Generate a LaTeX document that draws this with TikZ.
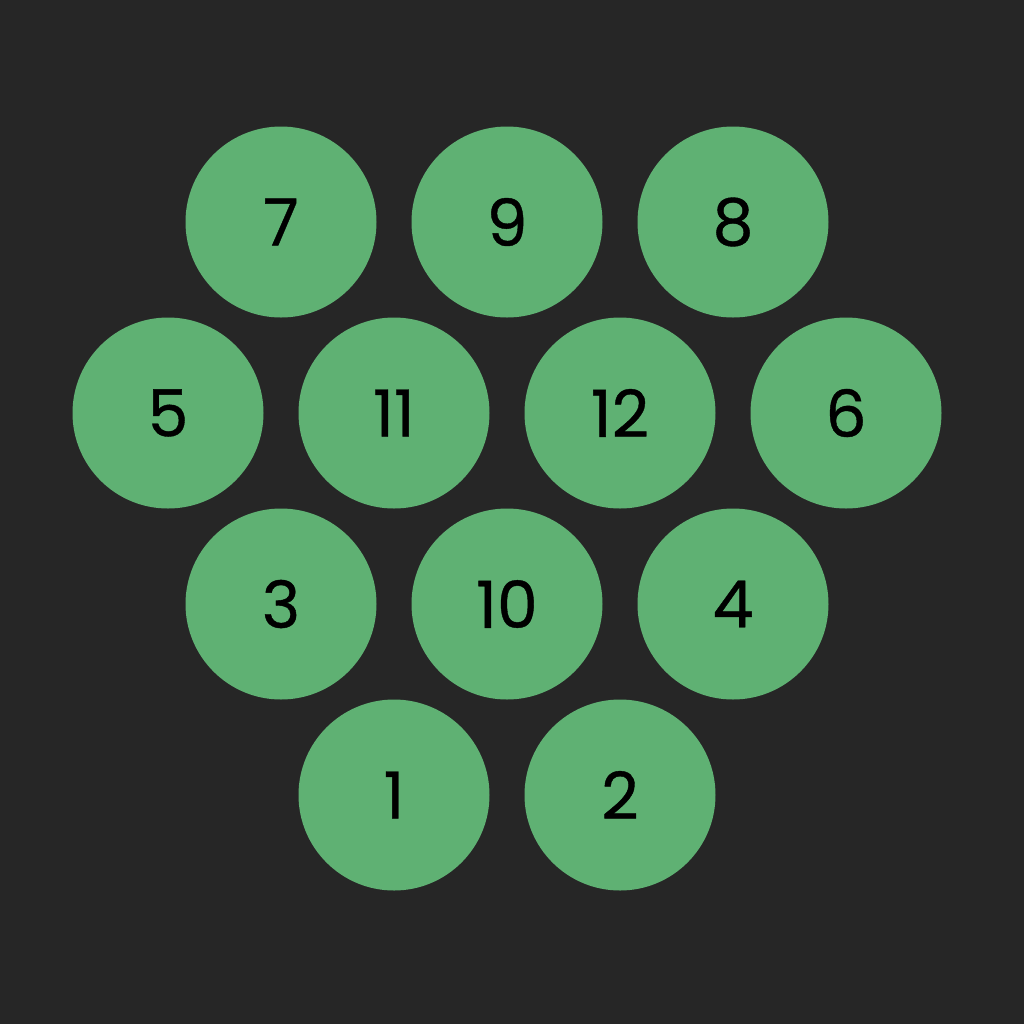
\documentclass[tikz,border=0pt]{standalone}
\usepackage{fontspec}
\setmainfont{Poppins}[FakeBold=0.6,Numbers=Monospaced]
\definecolor{bg}{HTML}{262626}
\definecolor{ball}{HTML}{5FB173}
\begin{document}
\begin{tikzpicture}[x=0.5pt,y=-0.5pt,
  ball/.style={circle,fill=ball,draw=none,minimum size=95.5pt,inner sep=0pt,
    font=\fontsize{32.5}{32.5}\selectfont,text=black}]
\fill[bg] (0,0) rectangle (1024,1024);
\useasboundingbox (0,0) rectangle (1024,1024);
\node[ball] (n7) at (281,222) {7};
\node[ball] (n9) at (507,222) {9};
\node[ball] (n8) at (733,222) {8};
\node[ball] (n5) at (168,413) {5};
\node[ball] (n11) at (394,413) {11};
\node[ball] (n12) at (620,413) {12};
\node[ball] (n6) at (846,413) {6};
\node[ball] (n3) at (281,604) {3};
\node[ball] (n10) at (507,604) {10};
\node[ball] (n4) at (733,604) {4};
\node[ball] (n1) at (394,795) {1};
\node[ball] (n2) at (620,795) {2};
\end{tikzpicture}
\end{document}
